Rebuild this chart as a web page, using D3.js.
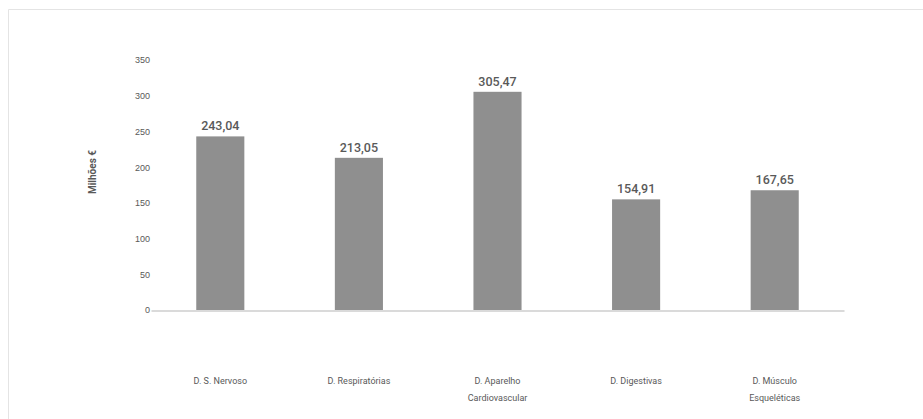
<!DOCTYPE html>
<html>
<head>
<meta charset="utf-8">
<script src="https://cdn.jsdelivr.net/npm/d3@7"></script>
<style>
  html, body { margin: 0; padding: 0; background: #fff; }
  svg { display: block; font-family: Roboto, "Open Sans", sans-serif; }
</style>
</head>
<body>
<svg id="chart" width="923" height="419"></svg>
<script>
// Custos por grupo de doenças (milhões de euros)
const categories = [
  ["D. S. Nervoso"],
  ["D. Respiratórias"],
  ["D. Aparelho", "Cardiovascular"],
  ["D. Digestivas"],
  ["D. Músculo", "Esqueléticas"]
];
const values = [243.04, 213.05, 305.47, 154.91, 167.65];
const yTicks = [0, 50, 100, 150, 200, 250, 300, 350];
const yTitle = "Milhões €";

const svg = d3.select("#chart");

// faint frame around the chart area
svg.append("line").attr("x1", 8.5).attr("x2", 923).attr("y1", 9.5).attr("y2", 9.5)
  .attr("stroke", "#e4e4e4");
svg.append("line").attr("x1", 8.5).attr("x2", 8.5).attr("y1", 9.5).attr("y2", 419)
  .attr("stroke", "#e4e4e4");

const plot = { left: 151, right: 844, top: 60, bottom: 310 };

const x = d3.scaleBand()
  .domain(d3.range(values.length))
  .range([plot.left, plot.right])
  .paddingInner(0.653)
  .paddingOuter(0.3265);

const y = d3.scaleLinear()
  .domain([0, 350])
  .range([plot.bottom, plot.top]);

// y axis tick labels (no axis line)
const yAxis = d3.axisLeft(y).tickValues(yTicks).tickSize(0).tickPadding(0)
  .tickFormat(d3.format("d"));
const gy = svg.append("g").attr("transform", `translate(${plot.left - 1},0)`).call(yAxis);
gy.select(".domain").remove();
gy.selectAll("text").attr("fill", "#595959").attr("font-size", 9);

// bars
svg.append("g").selectAll("rect").data(values).join("rect")
  .attr("x", (d, i) => x(i))
  .attr("width", x.bandwidth())
  .attr("y", d => y(d))
  .attr("height", d => y(0) - y(d))
  .attr("fill", "#8f8f8f");

// value labels
svg.append("g").selectAll("text").data(values).join("text")
  .attr("x", (d, i) => x(i) + x.bandwidth() / 2)
  .attr("y", d => y(d) - 6)
  .attr("text-anchor", "middle")
  .attr("font-size", 12.5)
  .attr("font-weight", 500)
  .attr("fill", "#595959")
  .text(d => d3.format(".2f")(d).replace(".", ","));

// x axis baseline
const xAxis = d3.axisBottom(x).tickSize(0).tickFormat("");
const gx = svg.append("g").attr("transform", `translate(0,${plot.bottom + 0.5})`).call(xAxis);
gx.select(".domain").attr("stroke", "#b5b5b5").attr("stroke-width", 1.2);

// category labels
const cat = svg.append("g").selectAll("text").data(categories).join("text")
  .attr("text-anchor", "middle")
  .attr("font-size", 9)
  .attr("fill", "#595959")
  .attr("transform", (d, i) => `translate(${x(i) + x.bandwidth() / 2},384)`);
cat.selectAll("tspan").data(d => d).join("tspan")
  .attr("x", 0)
  .attr("dy", (d, j) => j === 0 ? 0 : 17)
  .text(d => d);

// y axis title
svg.append("text")
  .attr("transform", "translate(96,172) rotate(-90)")
  .attr("text-anchor", "middle")
  .attr("font-size", 10)
  .attr("font-weight", 700)
  .attr("fill", "#595959")
  .text(yTitle);
</script>
</body>
</html>
